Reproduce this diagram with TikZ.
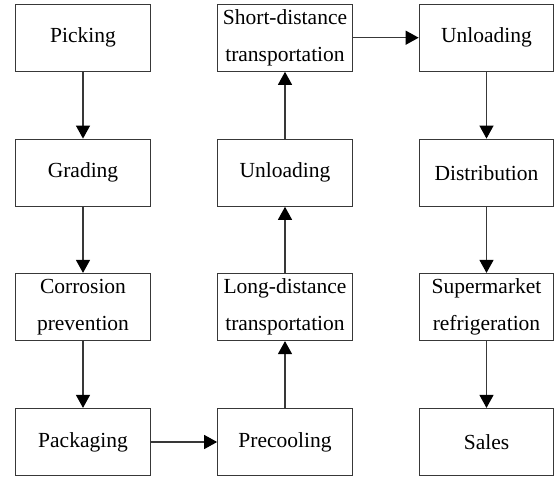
\documentclass[tikz,border=0pt]{standalone}
\usepackage{fontspec}
\setmainfont{Liberation Serif}
\usetikzlibrary{arrows.meta}
\begin{document}
\begin{tikzpicture}[x=1pt,y=-1pt,
  stepbox/.style={draw=black!78, line width=1.2pt, minimum width=134.5pt, minimum height=67pt, inner sep=0pt, align=center, font={\fontsize{21.5}{37}\selectfont}},
  flow/.style={draw=black!78, line width=1.2pt, -{Triangle[length=13pt,width=14pt,fill=black,color=black]}}]
\useasboundingbox (0,0) rectangle (555,477);
\node[stepbox] (pick) at (83,37.7) {Picking};
\node[stepbox] (grad) at (83,172.7) {Grading};
\node[stepbox] (corr) at (83,307) {Corrosion\\prevention};
\node[stepbox] (pack) at (83,442) {Packaging};
\node[stepbox] (prec) at (285,442) {Precooling};
\node[stepbox] (long) at (285,307) {Long-distance\\transportation};
\node[stepbox] (unl1) at (285,172.7) {Unloading};
\node[stepbox] (short) at (285,37.7) {Short-distance\\transportation};
\node[stepbox] (unl2) at (486.5,37.7) {Unloading};
\node[stepbox] (dist) at (486.5,172.7) {Distribution};
\node[stepbox] (super) at (486.5,307) {Supermarket\\refrigeration};
\node[stepbox] (sales) at (486.5,442) {Sales};
\draw[flow] (pick) -- (grad);
\draw[flow] (grad) -- (corr);
\draw[flow] (corr) -- (pack);
\draw[flow] (pack) -- (prec);
\draw[flow] (prec) -- (long);
\draw[flow] (long) -- (unl1);
\draw[flow] (unl1) -- (short);
\draw[flow] (short) -- (unl2);
\draw[flow] (unl2) -- (dist);
\draw[flow] (dist) -- (super);
\draw[flow] (super) -- (sales);
\end{tikzpicture}
\end{document}
